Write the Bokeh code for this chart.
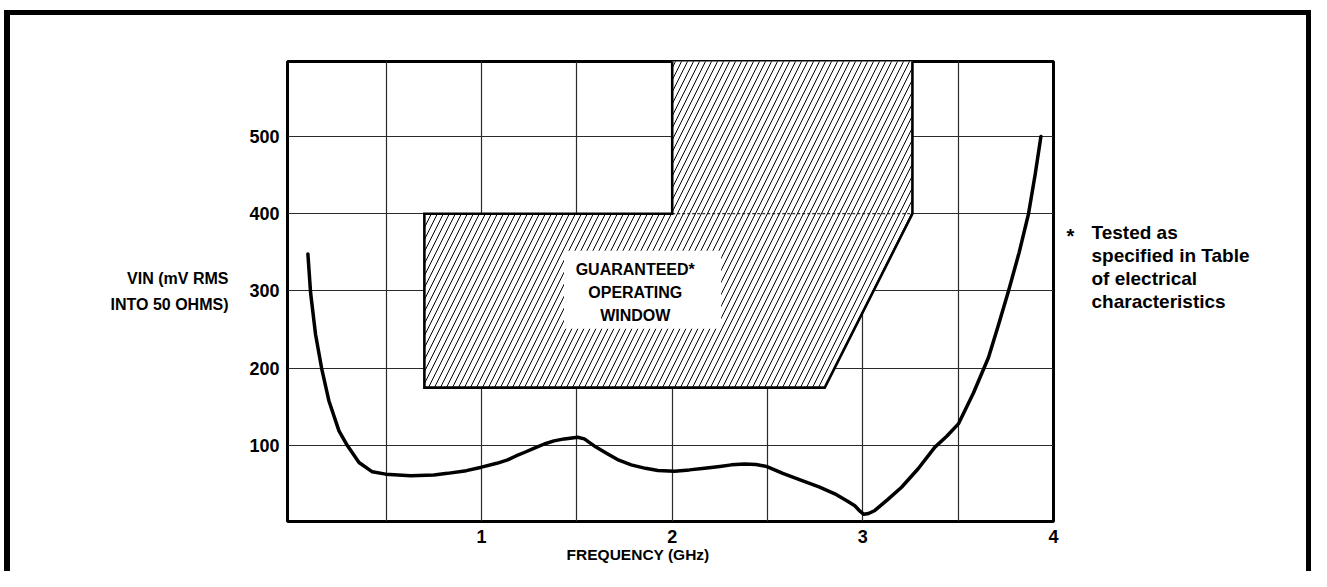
from bokeh.plotting import figure
from bokeh.models import FixedTicker, Label, LinearAxis
from bokeh.embed import file_html
from bokeh.resources import INLINE

# ---- data ----
freq = [0.089, 0.103, 0.129, 0.161, 0.199, 0.252, 0.296, 0.357, 0.427, 0.497,
        0.628, 0.75, 0.821, 0.92, 1.0, 1.08, 1.137, 1.18, 1.224, 1.28,
        1.329, 1.38, 1.434, 1.504, 1.539, 1.6, 1.662, 1.72, 1.785, 1.86,
        1.925, 2.012, 2.09, 2.17, 2.25, 2.31, 2.38, 2.44, 2.494, 2.58,
        2.678, 2.77, 2.853, 2.92, 2.958, 2.985, 3.005, 3.03, 3.063, 3.13,
        3.203, 3.29, 3.378, 3.44, 3.501, 3.58, 3.659, 3.71, 3.764, 3.82,
        3.869, 3.904, 3.934]
vin = [348, 298, 244, 200, 158, 119, 100, 78, 66, 63,
       61, 62, 64, 67.5, 72, 77, 81.5, 86.5, 91, 97,
       102, 106, 108.6, 110.8, 108.6, 98, 89, 81, 75, 70.5,
       67.7, 66.8, 68.5, 70.7, 73, 75, 76, 75.5, 73, 64,
       55, 46.5, 37.5, 28, 22, 15, 11, 12, 16, 30,
       46, 70, 98, 112, 128, 168, 214, 255, 300, 350,
       400, 451, 500]

window_x = [0.7, 0.7, 2.0, 2.0, 3.26, 3.26, 2.8]
window_y = [175, 400, 400, 600, 600, 400, 175]
window_edge_x = [2.0, 2.0, 0.7, 0.7, 2.8, 3.26, 3.26]
window_edge_y = [600, 400, 400, 175, 175, 400, 600]
window_dash_x = [2.0, 3.26]
window_dash_y = [400, 400]
window_text_box = dict(left=1.432, right=2.257, bottom=251, top=352)

x_ticks = [1, 2, 3, 4]
x_grid = [0.5, 1, 1.5, 2, 2.5, 3, 3.5]
y_ticks = [100, 200, 300, 400, 500]

window_lines = ["GUARANTEED*", "OPERATING", "WINDOW"]
window_line_y = [327.6, 298.0, 268.1]
y_label = "VIN (mV RMS\nINTO 50 OHMS)"
x_label = "FREQUENCY (GHz)"
x_label_pos = 1.821
note_lines = ["Tested as", "specified in Table", "of electrical", "characteristics"]
note_line_y = [375.6, 345.8, 316.0, 286.2]
note_star = "*"
note_star_y = 371.0

FONT = "Liberation Sans"

p = figure(width=1311, height=571, x_range=(-0.018, 4.0), y_range=(1.7, 597),
           output_backend="svg", toolbar_location=None,
           min_border_left=287, min_border_right=258,
           min_border_top=61, min_border_bottom=50)
p.border_fill_color = None
p.background_fill_color = "white"
p.outline_line_color = "black"
p.outline_line_width = 3
p.outline_line_alpha = 1.0
p.styles = {
    "background-image": "linear-gradient(#000,#000), linear-gradient(#000,#000), linear-gradient(#000,#000)",
    "background-position": "4px 10px, 4px 10px, 1306px 10px",
    "background-size": "6px 600px, 1307px 5px, 5px 600px",
    "background-repeat": "no-repeat",
}

# grids
p.xgrid.ticker = FixedTicker(ticks=x_grid)
p.ygrid.ticker = FixedTicker(ticks=y_ticks)
for g in (p.xgrid, p.ygrid):
    g.grid_line_color = "#2a2a2a"
    g.grid_line_width = 1.2
    g.grid_line_alpha = 1.0


def style_axis(ax, size, standoff):
    ax.axis_line_color = None
    ax.major_tick_line_color = None
    ax.minor_tick_line_color = None
    ax.major_tick_out = 0
    ax.major_tick_in = 0
    ax.major_label_text_font = FONT
    ax.major_label_text_font_style = "bold"
    ax.major_label_text_font_size = size
    ax.major_label_text_color = "black"
    ax.major_label_standoff = standoff


# main axes
p.xaxis.ticker = FixedTicker(ticks=x_ticks)
p.yaxis.ticker = FixedTicker(ticks=y_ticks)
style_axis(p.xaxis[0], "18px", 8)
style_axis(p.yaxis[0], "18px", 8)

p.yaxis.axis_label = y_label
p.yaxis.axis_label_orientation = "horizontal"
p.yaxis.axis_label_text_font = FONT
p.yaxis.axis_label_text_font_style = "bold"
p.yaxis.axis_label_text_font_size = "16px"
p.yaxis.axis_label_text_color = "black"
p.yaxis.axis_label_text_align = "left"
p.yaxis.axis_label_text_line_height = 1.5
p.yaxis.axis_label_standoff = 18

# x axis title placed through an extra axis so it sits where the reference has it
xlab_axis = LinearAxis(ticker=FixedTicker(ticks=[x_label_pos]),
                       major_label_overrides={x_label_pos: x_label})
style_axis(xlab_axis, "15.5px", 0)
p.add_layout(xlab_axis, "below")

# note at the right: asterisk and text lines
star_axis = LinearAxis(ticker=FixedTicker(ticks=[note_star_y]),
                       major_label_overrides={note_star_y: note_star})
style_axis(star_axis, "20px", 13)
p.add_layout(star_axis, "right")
note_axis = LinearAxis(ticker=FixedTicker(ticks=note_line_y),
                       major_label_overrides={v: t for v, t in zip(note_line_y, note_lines)})
style_axis(note_axis, "19px", 14)
p.add_layout(note_axis, "right")

# operating window (hatched)
p.patch(window_x, window_y, fill_color="white", line_color=None,
        hatch_pattern="/", hatch_color="black", hatch_scale=12, hatch_weight=1.0)
p.line(window_edge_x, window_edge_y, line_color="black", line_width=2.6, line_join="miter")
p.line(window_dash_x, window_dash_y, line_color="black", line_width=1, line_dash="3 2")
p.quad(left=[window_text_box["left"]], right=[window_text_box["right"]],
       bottom=[window_text_box["bottom"]], top=[window_text_box["top"]],
       fill_color="white", line_color=None)

# curve
p.line(freq, vin, line_color="black", line_width=3.5, line_join="round", line_cap="round")

# texts inside the window
for t, yy in zip(window_lines, window_line_y):
    p.add_layout(Label(x=1.806, y=yy, text=t, text_font=FONT, text_font_style="bold",
                       text_font_size="16px", text_align="center", text_baseline="middle",
                       text_color="black"))

open("out.html", "w").write(file_html(p, INLINE))
